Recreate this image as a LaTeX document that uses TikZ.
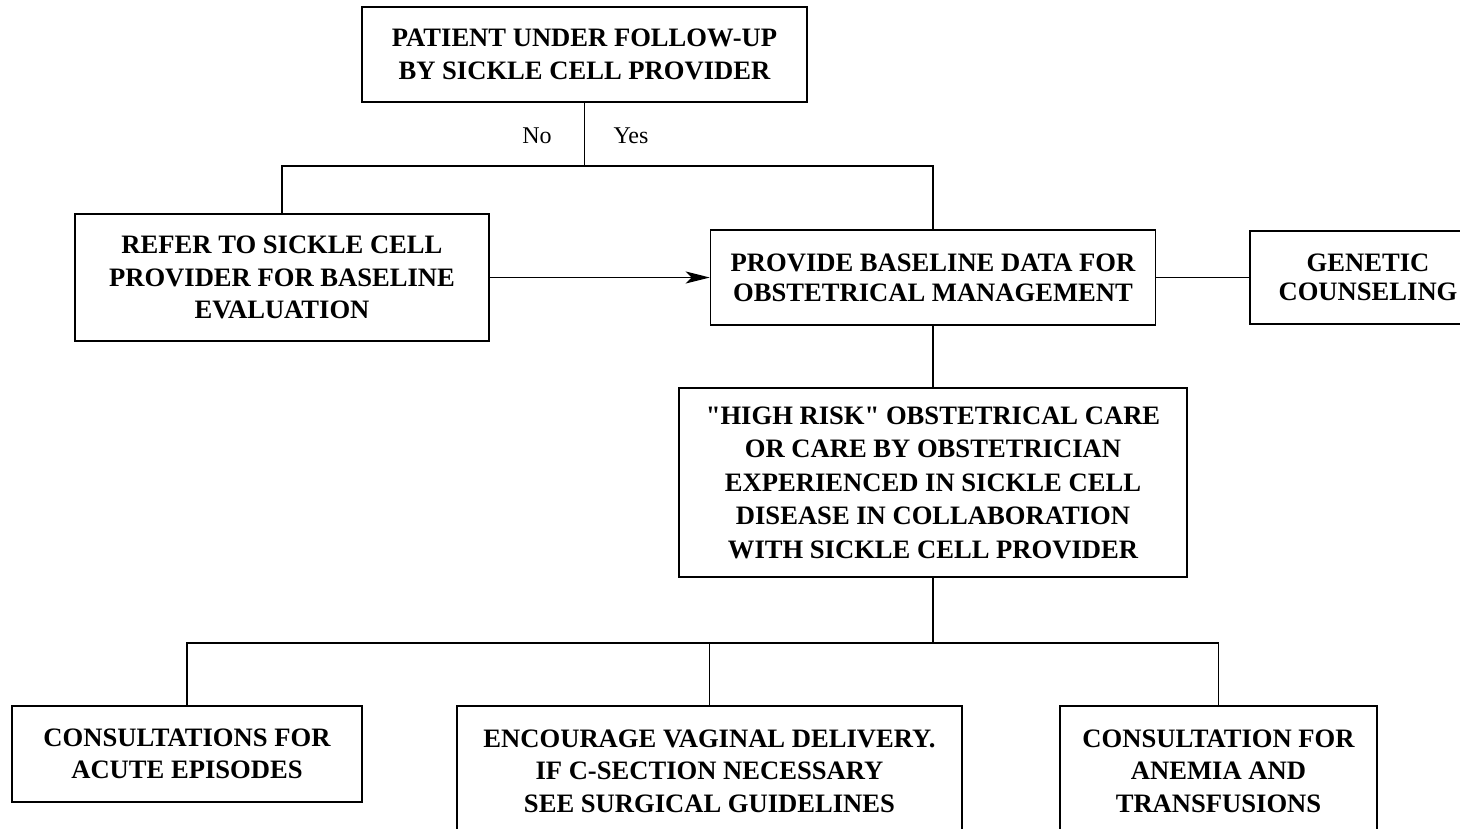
\documentclass[tikz,border=0pt]{standalone}
\usepackage{fontspec}
\setmainfont{Liberation Serif}[Ligatures=TeXOff]
\usetikzlibrary{arrows.meta}

\tikzset{
  box/.style={draw, line width=1.5pt, inner sep=0pt, align=center,
    font=\bfseries\fontsize{26.6}{32.5}\selectfont},
  lead/.style={line width=1.5pt},
  answer/.style={inner sep=0pt, font=\fontsize{24}{28}\selectfont},
}

\begin{document}
\begin{tikzpicture}[x=1pt, y=-1pt]
  \clip (0,0) rectangle (1460,828);

  % decision box and its two outcomes
  \node[box, minimum width=445pt, minimum height=95pt,
        font=\bfseries\fontsize{26.6}{33}\selectfont] (top) at (584.5,54.5)
    {PATIENT UNDER FOLLOW-UP\\BY SICKLE CELL PROVIDER};
  \node[answer] (no)  at (537,136) {No};
  \node[answer] (yes) at (631,136) {Yes};

  \node[box, minimum width=414pt, minimum height=127pt] (refer) at (282,277.5)
    {REFER TO SICKLE CELL\\PROVIDER FOR BASELINE\\EVALUATION};
  \node[box, minimum width=445pt, minimum height=95pt,
        font=\bfseries\fontsize{26.6}{30}\selectfont] (provide) at (933,277.5)
    {PROVIDE BASELINE DATA FOR\\OBSTETRICAL MANAGEMENT};
  \node[box, minimum width=236pt, minimum height=93pt,
        font=\bfseries\fontsize{26.6}{29}\selectfont] (genetic) at (1368,277.5)
    {GENETIC\\COUNSELING};

  \node[box, minimum width=508pt, minimum height=189pt,
        font=\bfseries\fontsize{26.6}{33.5}\selectfont] (risk) at (933,482.5)
    {"HIGH RISK" OBSTETRICAL CARE\\OR CARE BY OBSTETRICIAN\\EXPERIENCED IN SICKLE CELL\\DISEASE IN COLLABORATION\\WITH SICKLE CELL PROVIDER};

  % follow-up consultations along the bottom
  \node[box, minimum width=350pt, minimum height=96pt] (acute) at (187,754)
    {CONSULTATIONS FOR\\ACUTE EPISODES};
  \node[box, minimum width=505pt, minimum height=130pt] (deliver) at (709.5,771)
    {ENCOURAGE VAGINAL DELIVERY.\\IF C-SECTION NECESSARY\\SEE SURGICAL GUIDELINES};
  \node[box, minimum width=317pt, minimum height=130pt] (anemia) at (1218.5,771)
    {CONSULTATION FOR\\ANEMIA AND\\TRANSFUSIONS};

  % junction points
  \coordinate (j0) at (top.south |- 0,166);
  \coordinate (j1) at (risk.south |- 0,643);
  \coordinate (j2) at (deliver.north |- j1);

  % connectors
  \draw[lead] (top.south) -- (j0);
  \draw[lead] (refer.north) |- (j0) -| (provide.north);
  \draw[lead, -{Stealth[length=24pt, width=12pt, inset=6pt]}] (refer.east) -- (provide.west);
  \draw[lead] (provide.east) -- (genetic.west);
  \draw[lead] (provide.south) -- (risk.north);
  \draw[lead] (risk.south) -- (j1);
  \draw[lead] (acute.north) |- (j1) -| (anemia.north);
  \draw[lead] (j2) -- (deliver.north);
\end{tikzpicture}
\end{document}
